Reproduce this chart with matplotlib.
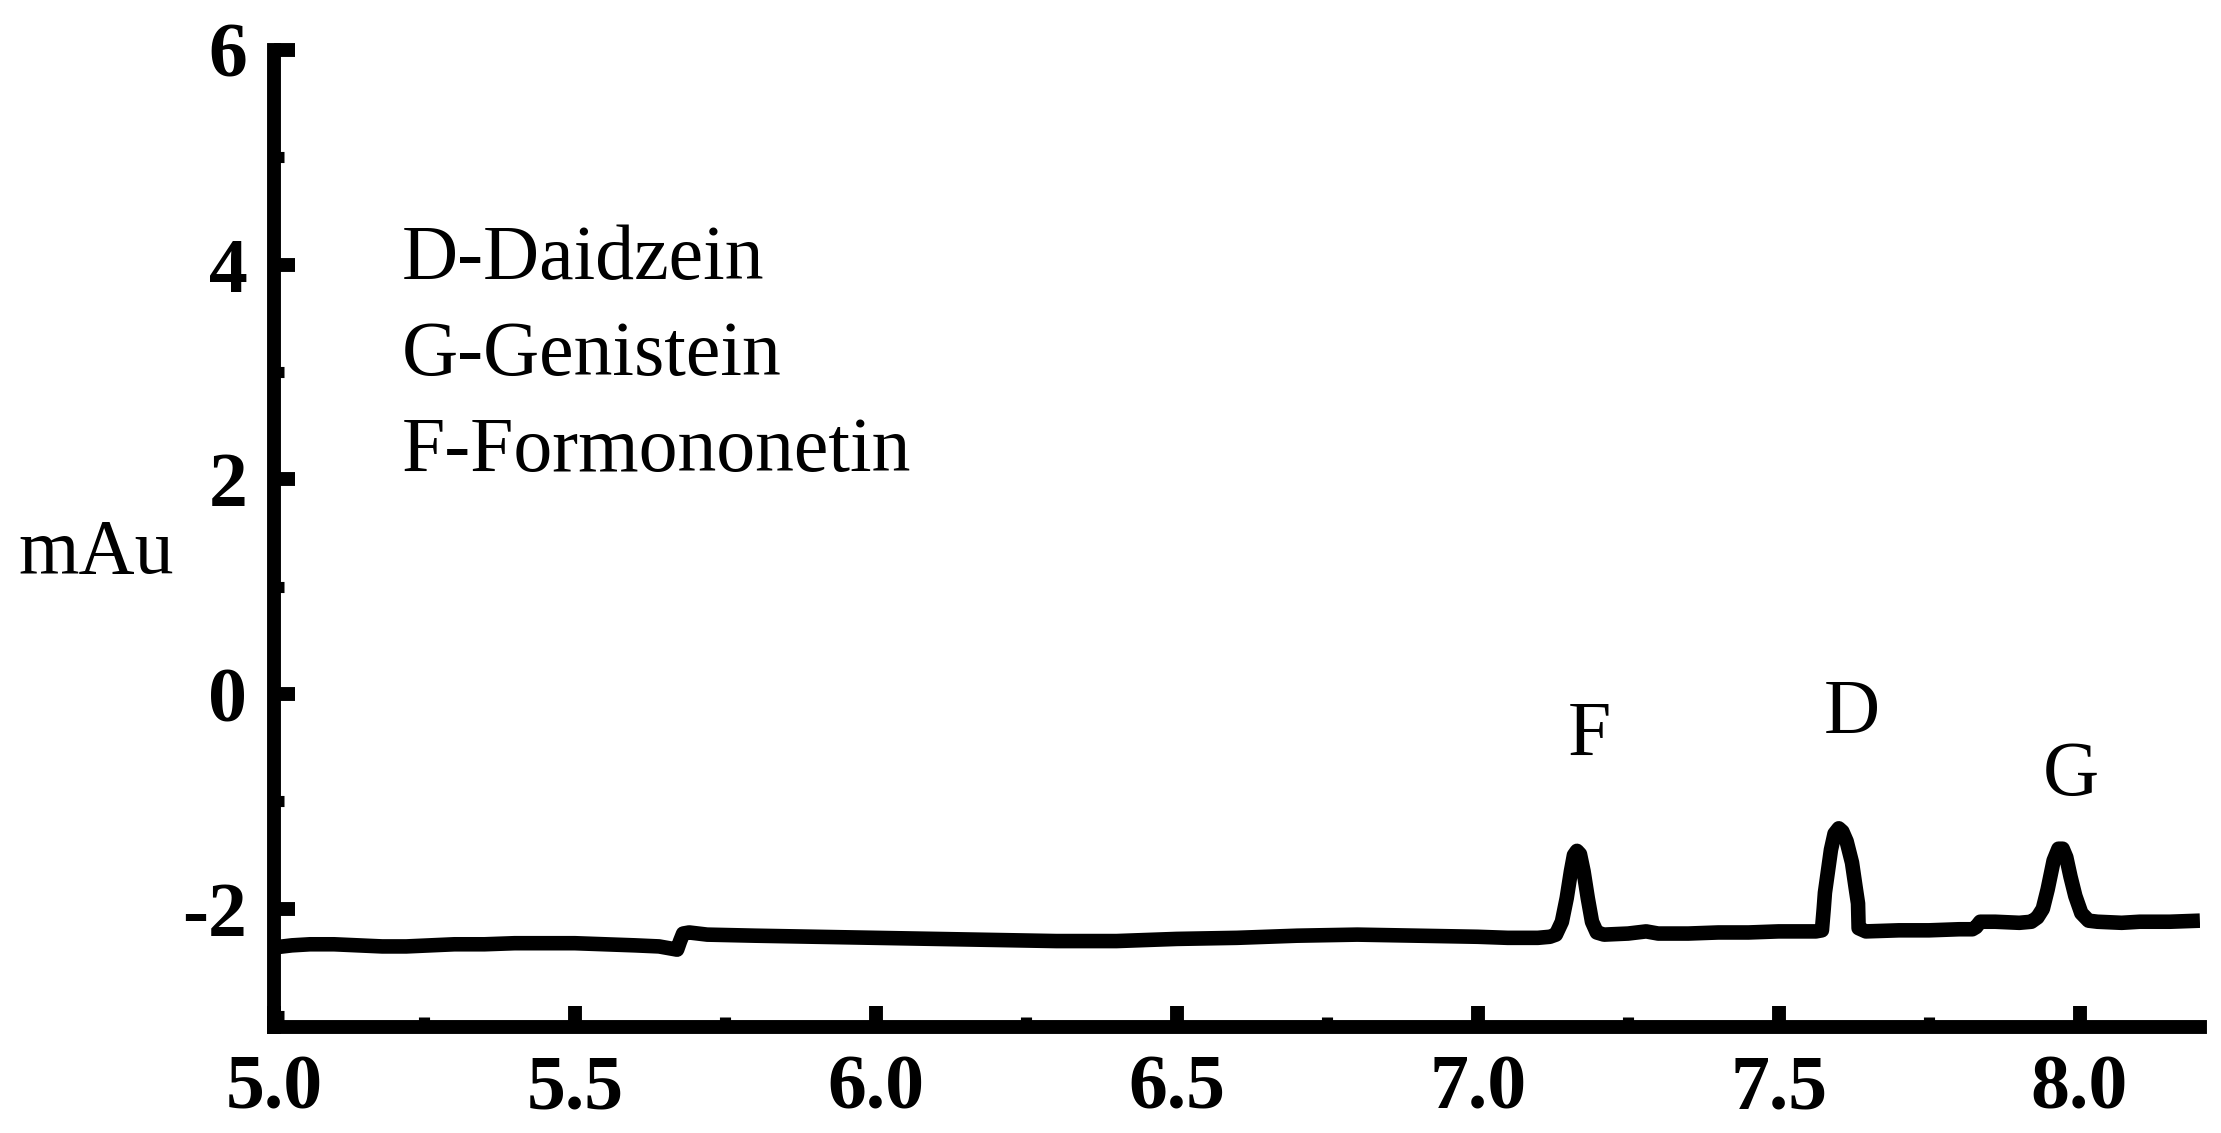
import matplotlib
matplotlib.use("Agg")
import matplotlib.pyplot as plt
from matplotlib.ticker import MultipleLocator, FormatStrFormatter

plt.rcParams['axes.unicode_minus'] = False

# retention time (min) and detector signal (mAu)
rt = [5.00, 5.03, 5.06, 5.10, 5.14, 5.18, 5.22, 5.26, 5.30, 5.35,
      5.40, 5.45, 5.50, 5.55, 5.60, 5.64, 5.67, 5.675, 5.68, 5.69,
      5.72, 5.80, 5.90, 6.00, 6.10, 6.20, 6.30, 6.40, 6.50, 6.60,
      6.70, 6.80, 6.90, 7.00, 7.05, 7.10, 7.12, 7.13, 7.14, 7.148,
      7.155, 7.160, 7.165, 7.170, 7.176, 7.183, 7.190, 7.198, 7.21, 7.25,
      7.28, 7.30, 7.35, 7.40, 7.45, 7.50, 7.55, 7.562, 7.572, 7.575,
      7.577, 7.582, 7.587, 7.593, 7.600, 7.606, 7.613, 7.622, 7.628, 7.632,
      7.633, 7.645, 7.70, 7.75, 7.80, 7.822, 7.828, 7.835, 7.86, 7.90,
      7.92, 7.93, 7.939, 7.947, 7.957, 7.965, 7.972, 7.978, 7.985, 7.993,
      8.003, 8.015, 8.03, 8.07, 8.10, 8.15, 8.20]
signal = [-2.36, -2.34, -2.33, -2.33, -2.34, -2.35, -2.35, -2.34, -2.33, -2.33,
          -2.32, -2.32, -2.32, -2.33, -2.34, -2.35, -2.38, -2.30, -2.23, -2.22,
          -2.24, -2.25, -2.26, -2.27, -2.28, -2.29, -2.30, -2.30, -2.28, -2.27,
          -2.25, -2.24, -2.25, -2.26, -2.27, -2.27, -2.26, -2.24, -2.12, -1.90,
          -1.65, -1.50, -1.46, -1.49, -1.65, -1.90, -2.12, -2.22, -2.24, -2.23,
          -2.21, -2.23, -2.23, -2.22, -2.22, -2.21, -2.21, -2.21, -2.20, -2.00,
          -1.85, -1.65, -1.45, -1.30, -1.25, -1.28, -1.37, -1.57, -1.80, -1.95,
          -2.18, -2.21, -2.20, -2.20, -2.19, -2.19, -2.17, -2.12, -2.12, -2.13,
          -2.12, -2.08, -2.00, -1.82, -1.55, -1.44, -1.44, -1.52, -1.70, -1.88,
          -2.04, -2.11, -2.12, -2.13, -2.12, -2.12, -2.11]

peak_names = ["F", "D", "G"]
peak_rt = [7.185, 7.622, 7.986]
peak_label_y = [-0.57, -0.36, -0.94]

legend_lines = ["D-Daidzein", "G-Genistein", "F-Formononetin"]

serif = ['Liberation Serif', 'DejaVu Serif']

fig = plt.figure(figsize=(22.21, 11.33), dpi=100)
ax = fig.add_axes([0.1233, 0.0936, 0.8672, 0.8623])

ax.plot(rt, signal, color='black', linewidth=10.5, solid_joinstyle='round',
        solid_capstyle='butt')

ax.set_xlim(5.0, 8.2)
ax.set_ylim(-3.1, 6)

for s in ['top', 'right']:
    ax.spines[s].set_visible(False)
for s in ['left', 'bottom']:
    ax.spines[s].set_linewidth(10)

ax.xaxis.set_major_locator(MultipleLocator(0.5))
ax.xaxis.set_minor_locator(MultipleLocator(0.25))
ax.xaxis.set_major_formatter(FormatStrFormatter('%.1f'))
ax.yaxis.set_major_locator(MultipleLocator(2))
ax.yaxis.set_minor_locator(MultipleLocator(1))

ax.tick_params(which='major', direction='in', length=15, width=10)
ax.tick_params(which='minor', direction='in', length=7.5, width=8)
ax.tick_params(axis='y', which='major', pad=19)
ax.tick_params(axis='x', which='major', pad=20)
for lab in ax.get_xticklabels() + ax.get_yticklabels():
    lab.set_family(serif)
    lab.set_fontweight('bold')
    lab.set_fontsize(56)

ax.set_ylabel('mAu', rotation=0, fontsize=56, family=serif,
              ha='left', va='baseline')
ax.yaxis.set_label_coords(-0.1328, 0.4647)

for i, line in enumerate(legend_lines):
    ax.text(5.213, 3.868 - i * 0.894, line, fontsize=56, family=serif,
            ha='left', va='baseline')

for name, x, y in zip(peak_names, peak_rt, peak_label_y):
    ax.text(x, y, name, fontsize=56, family=serif, ha='center', va='baseline')

fig.savefig('out.png', dpi=100)
